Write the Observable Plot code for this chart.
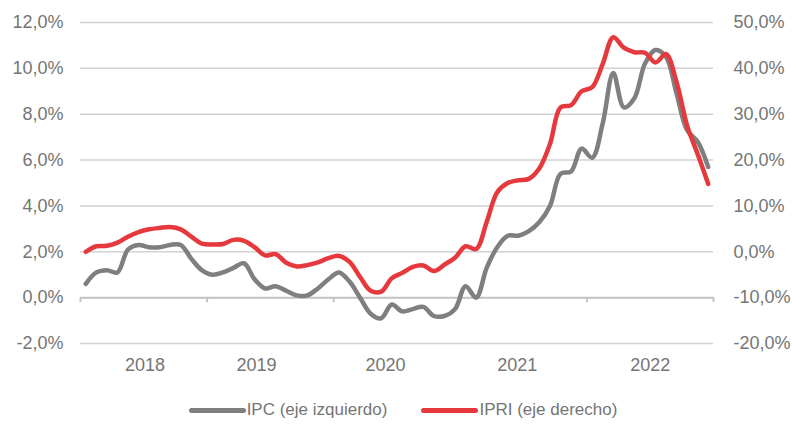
<!DOCTYPE html>
<html><head><meta charset="utf-8">
<script src="https://cdn.jsdelivr.net/npm/d3@7"></script>
<script src="https://cdn.jsdelivr.net/npm/@observablehq/plot@0.6"></script>
<style>
body{margin:0;background:#fff;font-family:"Liberation Sans",Arial,sans-serif;}
#chart{width:792px;height:425px;position:relative;overflow:hidden}
.legend{position:absolute;top:385px;left:0;width:792px;height:50px;display:flex;align-items:center;justify-content:center;font-size:17px;color:#757575;padding-left:14px;box-sizing:border-box}
.item{display:flex;align-items:center;margin:0 17px}
.sw{width:57px;height:5px;border-radius:3px;margin-right:1px}
</style></head><body><div id="chart"></div>
<script>
const startYear = 2018;
const ipc = [0.6,1.1,1.2,1.1,2.1,2.3,2.2,2.2,2.3,2.3,1.7,1.2,
             1.0,1.1,1.3,1.5,0.8,0.4,0.5,0.3,0.1,0.1,0.4,0.8,
             1.1,0.7,0.0,-0.7,-0.9,-0.3,-0.6,-0.5,-0.4,-0.8,-0.8,-0.5,
             0.5,0.0,1.3,2.2,2.7,2.7,2.9,3.3,4.0,5.4,5.5,6.5,
             6.1,7.6,9.8,8.3,8.7,10.2,10.8,10.5,8.9,7.3,6.8,5.7];
const ipri = [0.0,1.2,1.3,2.0,3.3,4.3,4.9,5.2,5.4,4.9,3.3,1.8,
              1.6,1.7,2.6,2.4,1.0,-0.8,-0.5,-2.4,-3.2,-2.9,-2.3,-1.4,
              -0.9,-2.2,-5.5,-8.5,-8.7,-5.8,-4.6,-3.3,-3.0,-4.2,-2.8,-1.3,
              1.2,0.6,6.5,13.0,15.0,15.6,15.9,18.2,23.5,31.5,32.0,35.0,
              35.9,41.0,46.8,44.5,43.5,43.4,41.3,43.1,37.0,27.5,21.3,14.8];
const leftTicks = [-2,0,2,4,6,8,10,12];
const rightTicks = [-20,-10,0,10,20,30,40,50];
const yearLabels = [2018,2019,2020,2021,2022];
const yearBounds = [2018,2019,2020,2021,2022,2023];
const seriesNames = ["IPC (eje izquierdo)", "IPRI (eje derecho)"];
const colors = ["#7f7f7f", "#e5393d"];

// layout: where the reference places each year label within its year (fraction of the year)
const labelAnchor = [0.51, 0.39, 0.41, 0.45, 0.5];

const toLeft = r => (r + 10) / 5;
const months = ipc.map((_, i) => startYear + (i + 0.5) / 12);
const fmt = v => (Math.round(v*10)/10).toFixed(1).replace(".", ",") + "%";
const textColor = "#757575";

const chart = Plot.plot({
  width: 792, height: 385,
  marginLeft: 80, marginRight: 79, marginTop: 22, marginBottom: 42,
  x: {domain: [2018, 2023]},
  y: {domain: [-2, 12]},
  style: {fontFamily: '"Liberation Sans", Arial, sans-serif', fontSize: "18px", color: textColor, background: "#fff"},
  marks: [
    Plot.ruleY(leftTicks, {stroke: "#d2d2d2", strokeWidth: 1.5}),
    Plot.ruleY([0], {stroke: "#c4c4c4", strokeWidth: 2}),
    Plot.ruleX(yearBounds, {x: d => d, y1: 0, y2: -0.22, stroke: "#c4c4c4", strokeWidth: 2}),
    Plot.axisY(leftTicks, {anchor: "left", tickSize: 0, tickPadding: 17, tickFormat: fmt, label: null, fontSize: 18}),
    Plot.axisY(rightTicks.map(toLeft), {anchor: "right", tickSize: 0, tickPadding: 20, tickFormat: v => fmt(v * 5 - 10), label: null, fontSize: 18}),
    Plot.axisX(yearLabels.map((y, i) => y + labelAnchor[i]), {anchor: "bottom", tickSize: 0, tickPadding: 15, tickFormat: d => String(Math.floor(d)), label: null, fontSize: 18}),
    Plot.line(ipc, {x: (d, i) => months[i], y: d => d, stroke: colors[0], strokeWidth: 4.5, curve: "catmull-rom"}),
    Plot.line(ipri, {x: (d, i) => months[i], y: d => toLeft(d), stroke: colors[1], strokeWidth: 4.5, curve: "catmull-rom"})
  ]
});
const root = document.getElementById("chart");
root.appendChild(chart);
const legend = document.createElement("div");
legend.className = "legend";
seriesNames.forEach((n, i) => {
  const it = document.createElement("div");
  it.className = "item";
  const sw = document.createElement("span");
  sw.className = "sw";
  sw.style.background = colors[i];
  const tx = document.createElement("span");
  tx.textContent = n;
  it.appendChild(sw); it.appendChild(tx);
  legend.appendChild(it);
});
root.appendChild(legend);
</script></body></html>
